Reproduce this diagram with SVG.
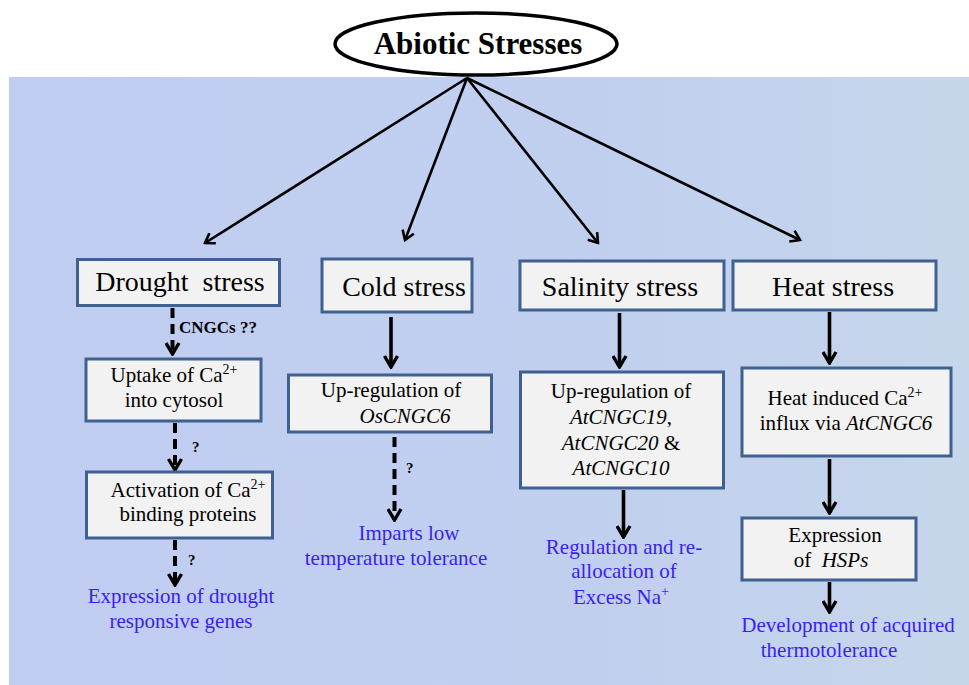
<svg xmlns="http://www.w3.org/2000/svg" width="969" height="685" viewBox="0 0 969 685">
<defs>
<linearGradient id="bg" x1="0" y1="0" x2="1" y2="0">
<stop offset="0" stop-color="#c0cdf1"/>
<stop offset="0.6" stop-color="#c1cfef"/>
<stop offset="1" stop-color="#c6d6ea"/>
</linearGradient>
<marker id="arr" viewBox="0 0 14 16" refX="12" refY="8" markerWidth="14" markerHeight="16" markerUnits="userSpaceOnUse" orient="auto">
<path d="M1,1.5 L12,8 L1,14.5" fill="none" stroke="#000" stroke-width="3.4"/>
</marker>
<marker id="arr2" viewBox="0 0 12 14" refX="10" refY="7" markerWidth="12" markerHeight="14" markerUnits="userSpaceOnUse" orient="auto">
<path d="M1,1 L10,7 L1,13" fill="none" stroke="#000" stroke-width="2.6"/>
</marker>
</defs>
<style>
text{font-family:'Liberation Serif','Times New Roman','DejaVu Serif',serif}
.box{fill:#f2f2f2;stroke:#3e6192;stroke-width:3}
.t{fill:#000}
.big{font-size:28px}
.mid{font-size:21px}
.sup{font-size:14px}
.blue{font-size:21px;fill:#3a1ff0}
.lab{font-size:17px;font-weight:bold;fill:#000}
.q{font-size:15px;font-weight:bold;fill:#000}
.solid{stroke:#000;stroke-width:3.6;fill:none;marker-end:url(#arr)}
.dash{stroke:#000;stroke-width:4;fill:none;stroke-dasharray:10 6;marker-end:url(#arr)}
.diag{stroke:#000;stroke-width:2.6;fill:none;marker-end:url(#arr2)}
</style>
<rect x="9" y="77" width="960" height="608" fill="url(#bg)"/>

<g id="connectors">
<line class="diag" x1="467" y1="78" x2="205" y2="243"/>
<line class="diag" x1="467" y1="78" x2="405" y2="240"/>
<line class="diag" x1="467" y1="78" x2="598" y2="243"/>
<line class="diag" x1="467" y1="78" x2="800" y2="240"/>
<line class="dash" x1="172.5" y1="308" x2="172.5" y2="354"/>
<line class="dash" x1="175" y1="423" x2="175" y2="470"/>
<line class="dash" x1="175" y1="540" x2="175" y2="585"/>
<line class="solid" x1="391" y1="317" x2="391" y2="367"/>
<line class="dash" x1="394.5" y1="437" x2="394.5" y2="520"/>
<line class="solid" x1="619.5" y1="313" x2="619.5" y2="367"/>
<line class="solid" x1="623.5" y1="490" x2="623.5" y2="537"/>
<line class="solid" x1="829.5" y1="312" x2="829.5" y2="363"/>
<line class="solid" x1="829.5" y1="459" x2="829.5" y2="513"/>
<line class="solid" x1="829.5" y1="582" x2="829.5" y2="612"/>
<text class="lab" x="179" y="333">CNGCs ??</text>
<text class="q" x="192" y="452">?</text>
<text class="q" x="188" y="565">?</text>
<text class="q" x="406" y="473">?</text>
</g>

<g id="root">
<ellipse cx="476" cy="44" rx="141" ry="31" fill="#fff" stroke="#000" stroke-width="3.5"/>
<text class="t" x="478" y="54" text-anchor="middle" font-size="31" font-weight="bold">Abiotic Stresses</text>
</g>

<g id="drought">
<rect class="box" x="77.5" y="259.5" width="202" height="46"/>
<text class="t big" x="180" y="291" text-anchor="middle" xml:space="preserve">Drought  stress</text>
</g>
<g id="cold">
<rect class="box" x="322" y="259" width="150" height="53"/>
<text class="t big" x="404" y="296" text-anchor="middle">Cold stress</text>
</g>
<g id="salinity">
<rect class="box" x="520" y="261" width="204" height="49"/>
<text class="t big" x="620" y="296" text-anchor="middle">Salinity stress</text>
</g>
<g id="heat">
<rect class="box" x="733" y="261" width="203" height="49"/>
<text class="t big" x="833" y="296" text-anchor="middle">Heat stress</text>
</g>

<g id="uptake">
<rect class="box" x="86" y="359" width="175" height="62"/>
<text class="t mid" x="174" y="382" text-anchor="middle">Uptake of Ca<tspan class="sup" dy="-8">2+</tspan></text>
<text class="t mid" x="174" y="407" text-anchor="middle">into cytosol</text>
</g>
<g id="activation">
<rect class="box" x="86.5" y="472" width="186" height="66"/>
<text class="t mid" x="188" y="497" text-anchor="middle">Activation of Ca<tspan class="sup" dy="-8">2+</tspan></text>
<text class="t mid" x="188" y="521" text-anchor="middle">binding proteins</text>
</g>
<g id="drought-out">
<text class="blue" x="181" y="603" text-anchor="middle">Expression of drought</text>
<text class="blue" x="181" y="628" text-anchor="middle">responsive genes</text>
</g>

<g id="cold-up">
<rect class="box" x="288.5" y="375" width="203" height="57"/>
<text class="t mid" x="391" y="397" text-anchor="middle">Up-regulation of</text>
<text class="t mid" x="405" y="423" text-anchor="middle" font-style="italic">OsCNGC6</text>
</g>
<g id="cold-out">
<text class="blue" x="409" y="540" text-anchor="middle">Imparts low</text>
<text class="blue" x="396" y="565" text-anchor="middle">temperature tolerance</text>
</g>

<g id="sal-up">
<rect class="box" x="520.5" y="372" width="203" height="116"/>
<text class="t mid" x="621" y="398" text-anchor="middle">Up-regulation of</text>
<text class="t mid" x="621" y="424" text-anchor="middle"><tspan font-style="italic">AtCNGC19</tspan>,</text>
<text class="t mid" x="621" y="450" text-anchor="middle"><tspan font-style="italic">AtCNGC20</tspan> &amp;</text>
<text class="t mid" x="621" y="475" text-anchor="middle" font-style="italic">AtCNGC10</text>
</g>
<g id="sal-out">
<text class="blue" x="624" y="554" text-anchor="middle">Regulation and re-</text>
<text class="blue" x="624" y="578" text-anchor="middle">allocation of</text>
<text class="blue" x="621" y="604" text-anchor="middle">Excess Na<tspan class="sup" dy="-8">+</tspan></text>
</g>

<g id="heat-influx">
<rect class="box" x="742" y="368" width="209" height="88"/>
<text class="t mid" x="845" y="405" text-anchor="middle">Heat induced Ca<tspan class="sup" dy="-8">2+</tspan></text>
<text class="t mid" x="846" y="430" text-anchor="middle">influx via <tspan font-style="italic">AtCNGC6</tspan></text>
</g>
<g id="heat-hsp">
<rect class="box" x="742" y="518" width="174" height="62"/>
<text class="t mid" x="835" y="542" text-anchor="middle">Expression</text>
<text class="t mid" x="831" y="567" text-anchor="middle" xml:space="preserve">of  <tspan font-style="italic">HSPs</tspan></text>
</g>
<g id="heat-out">
<text class="blue" x="848" y="632" text-anchor="middle">Development of acquired</text>
<text class="blue" x="829" y="657" text-anchor="middle">thermotolerance</text>
</g>
</svg>
